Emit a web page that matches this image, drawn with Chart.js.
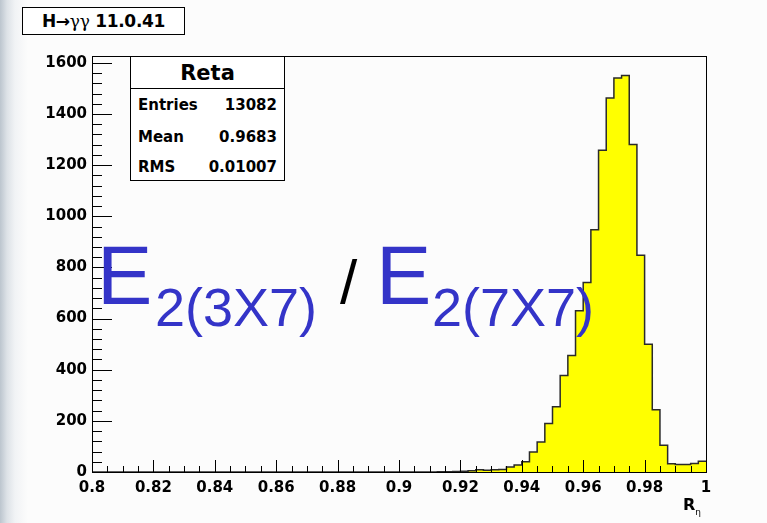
<!DOCTYPE html>
<html>
<head>
<meta charset="utf-8">
<script src="https://cdn.jsdelivr.net/npm/chart.js@4/dist/chart.umd.min.js"></script>
<style>
  html,body{margin:0;padding:0;}
  body{width:767px;height:523px;overflow:hidden;position:relative;
       background:linear-gradient(to right,#bcc5ce 0px,#dde2e7 7px,#f1f3f5 15px,#fcfcfc 28px);
       font-family:"DejaVu Sans",sans-serif;}
  #c{position:absolute;left:0;top:0;}
  .box{position:absolute;background:#fff;border:1px solid #000;box-sizing:border-box;}
  #title{left:22px;top:7px;width:163px;height:28px;font-weight:bold;font-size:17px;line-height:26px;text-align:center;letter-spacing:-0.3px;}
  #title .g{font-family:"DejaVu Serif",serif;font-weight:normal;font-size:17px;}
  #stats{left:130px;top:56px;width:155px;height:125px;}
  #stats .hd{height:31px;border-bottom:1px solid #000;font-weight:bold;font-size:21px;text-align:center;line-height:32px;}
  #stats .row{position:absolute;left:7px;right:7px;font-weight:bold;font-size:15px;line-height:18px;}
  #stats .row span{position:absolute;right:0;}
  .f{position:absolute;line-height:1;white-space:nowrap;color:#3434c8;font-family:"Liberation Sans",Arial,sans-serif;}
  #xt{position:absolute;left:683px;top:497px;font-weight:bold;font-size:16px;line-height:1;}
  #xt sub{font-size:9px;font-weight:normal;vertical-align:-5px;}
</style>
</head>
<body>
<canvas id="c" width="767" height="523"></canvas>
<div class="box" id="title">H→<span class="g">γγ</span> 11.0.41</div>
<div class="box" id="stats">
  <div class="hd">Reta</div>
  <div class="row" style="top:39px">Entries<span>13082</span></div>
  <div class="row" style="top:71px">Mean<span>0.9683</span></div>
  <div class="row" style="top:101px">RMS<span>0.01007</span></div>
</div>
<div class="f" style="left:97px;top:234px;font-size:83px;">E</div>
<div class="f" style="left:155px;top:280px;font-size:54px;">2(3X7)</div>
<div class="f" style="left:340px;top:251px;font-size:62px;color:#000;">/</div>
<div class="f" style="left:376px;top:234px;font-size:83px;">E</div>
<div class="f" style="left:432px;top:280px;font-size:54px;">2(7X7)</div>
<div id="xt">R<sub>η</sub></div>
<script>
// ---- data ----
const xMin = 0.8;
const xMax = 1.0;
const binWidth = 0.0025;
// 80 bins from 0.8 to 1.0
const counts = [
  0,0,0,0,0,0,0,0,0,0,
  0,0,0,0,0,0,0,0,0,0,
  0,0,0,0,0,0,0,0,0,0,
  0,0,0,0,0,0,0,0,0,0,
  0,0,0,0,0,1,1,2,3,5,
  9,7,9,10,20,27,40,78,117,190,
  255,377,456,631,741,947,1258,1463,1541,1551,
  1281,848,500,243,105,32,29,29,33,42
];
const yMax = 1627;
const yTickValues = [0,200,400,600,800,1000,1200,1400,1600];
const yTickLabels = ['0','200','400','600','800','1000','1200','1400','1600'];
const xTickValues = [0.8,0.82,0.84,0.86,0.88,0.9,0.92,0.94,0.96,0.98,1.0];
const xTickLabels = ['0.8','0.82','0.84','0.86','0.88','0.9','0.92','0.94','0.96','0.98','1'];

const points = counts.map((c,i)=>({x: xMin + i*binWidth, y: c}));
points.push({x: xMax, y: counts[counts.length-1]});

const tickFont = {family:'"DejaVu Sans", sans-serif', size:15, weight:'bold'};

const rootTicks = {
  id:'rootTicks',
  afterDatasetsDraw(chart){
    const {ctx, chartArea:a, scales:{x,y}} = chart;
    ctx.save();
    ctx.strokeStyle = '#000';
    ctx.lineWidth = 1;
    ctx.beginPath();
    const xs = xTickValues[1]-xTickValues[0];
    for (let k=0;k<xTickValues.length;k++){
      for (let m=0;m<4;m++){
        const v = xTickValues[k] + m*xs/4;
        if (v > xMax + 1e-9) break;
        const px = Math.round(x.getPixelForValue(v))+0.5;
        const len = m===0 ? 12 : 6;
        ctx.moveTo(px, a.bottom); ctx.lineTo(px, a.bottom-len);
      }
    }
    const ys = yTickValues[1]-yTickValues[0];
    for (let k=0;k<yTickValues.length;k++){
      for (let m=0;m<5;m++){
        const v = yTickValues[k] + m*ys/5;
        if (v > yMax) break;
        const py = Math.round(y.getPixelForValue(v))+0.5;
        const len = m===0 ? 20 : 10;
        ctx.moveTo(a.left, py); ctx.lineTo(a.left+len, py);
      }
    }
    ctx.stroke();
    ctx.strokeRect(Math.round(a.left)+0.5, Math.round(a.top)+0.5, Math.round(a.right-a.left), Math.round(a.bottom-a.top));
    ctx.restore();
  }
};

new Chart(document.getElementById('c'), {
  type:'line',
  data:{datasets:[{
    data: points,
    stepped:'before',
    fill:'origin',
    backgroundColor:'#ffff00',
    borderColor:'#2a2a2a',
    borderWidth:1.5,
    pointRadius:0,
    tension:0
  }]},
  options:{
    responsive:false,
    devicePixelRatio:1,
    animation:false,
    events:[],
    layout:{padding:{left:0, top:56, right:61, bottom:0}},
    plugins:{legend:{display:false}, tooltip:{enabled:false}},
    scales:{
      x:{
        type:'linear', min:xMin, max:xMax,
        afterBuildTicks(s){ s.ticks = xTickValues.map(v=>({value:v})); },
        afterFit(s){ s.height = 51; },
        ticks:{ callback:(v,i)=>xTickLabels[i], font:tickFont, color:'#000', padding:7, maxRotation:0, autoSkip:false },
        grid:{display:false, drawTicks:false},
        border:{display:true, color:'#000', width:1}
      },
      y:{
        type:'linear', min:0, max:yMax,
        afterBuildTicks(s){ s.ticks = yTickValues.map(v=>({value:v})); },
        afterFit(s){ s.width = 92; },
        ticks:{ callback:(v,i)=>yTickLabels[i], font:tickFont, color:'#000', padding:5, autoSkip:false },
        grid:{display:false, drawTicks:false},
        border:{display:true, color:'#000', width:1}
      }
    }
  },
  plugins:[rootTicks]
});
</script>
</body>
</html>
